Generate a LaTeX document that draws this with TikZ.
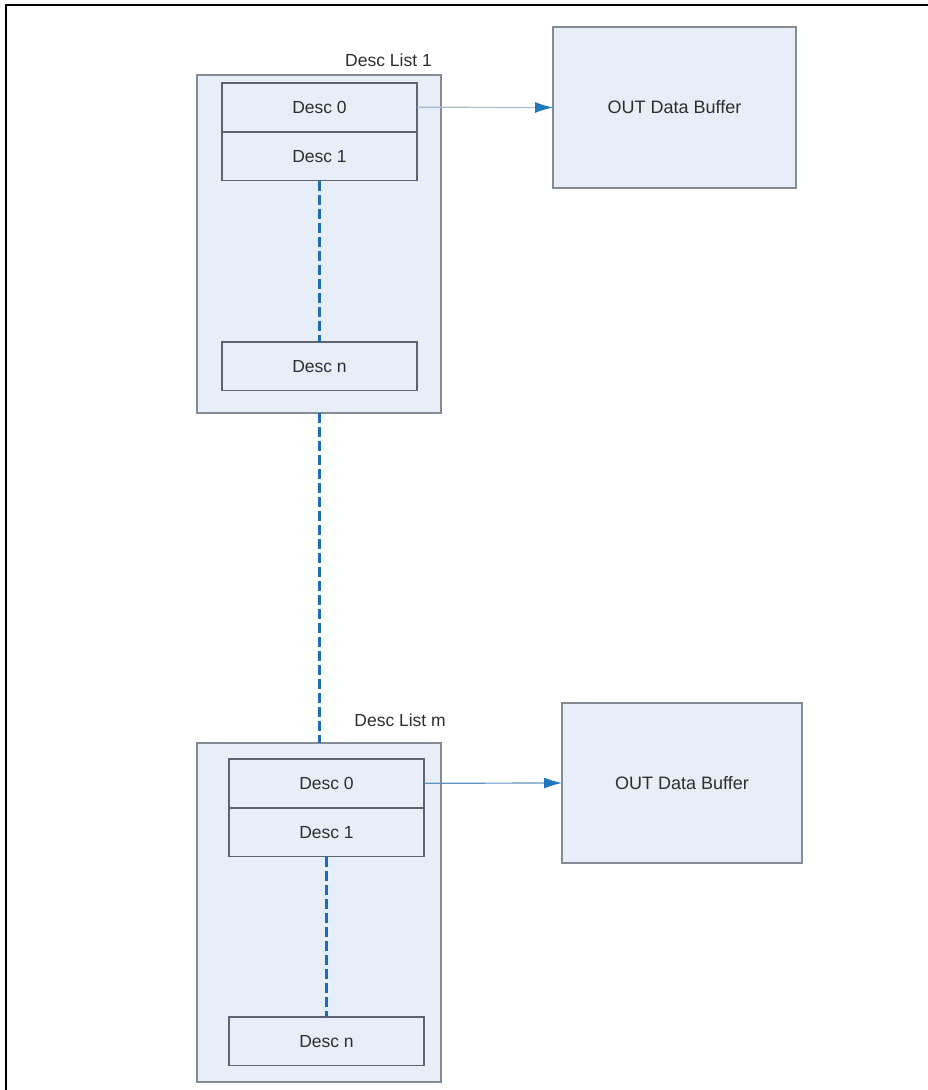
\documentclass[tikz,border=0pt]{standalone}
\usepackage{fontspec}
\setmainfont{Liberation Sans}
\usetikzlibrary{arrows.meta}
\definecolor{boxfill}{HTML}{E8EEF7}
\definecolor{boxline}{HTML}{5E646E}
\definecolor{listline}{HTML}{858B95}
\definecolor{dashblue}{HTML}{1E6DB4}
\definecolor{ptrlineA}{HTML}{A9BCCD}
\definecolor{ptrlineB}{HTML}{5F93BE}
\definecolor{headblue}{HTML}{1E78C0}
\definecolor{txt}{HTML}{2E2E2E}
\tikzset{
  listbox/.style={draw=listline, fill=boxfill, line width=1.3pt, inner sep=0pt, outer sep=0pt, anchor=north west},
  descbox/.style={draw=boxline, fill=boxfill, line width=1.3pt, inner sep=0pt, outer sep=0pt, anchor=north west,
    minimum width=195pt, minimum height=48.5pt, text=txt, font=\fontsize{17.5}{19}\selectfont},
  bufbox/.style={draw=listline, fill=boxfill, line width=1.3pt, inner sep=0pt, outer sep=0pt, anchor=north west,
    text=txt, font=\fontsize{18}{20}\selectfont},
  listlabel/.style={anchor=east, inner sep=0pt, text=txt, font=\fontsize{17.5}{19}\selectfont},
  dashlink/.style={draw=dashblue, line width=3pt, dash pattern=on 10pt off 4pt},
  ptr/.style={line width=1.2pt, -{Latex[length=18pt,width=11pt,fill=headblue,color=headblue]}},
}
\begin{document}
\begin{tikzpicture}[x=1pt,y=-1pt]
\useasboundingbox (0,0) rectangle (928,1090);
\coordinate (fTL) at (6,5);
\coordinate (fTR) at (928,5);
\coordinate (fBL) at (6,1090);
\draw[line width=2pt] (fTR) -- (fTL) -- (fBL);

% Desc List 1
\node[listbox, minimum width=244pt, minimum height=338pt] (L1) at (197,75) {};
\node[listlabel] (L1lab) at (432,60) {Desc List 1};
\node[descbox] (d01) at (222,83) {Desc 0};
\node[descbox] (d11) at (222,132) {Desc 1};
\node[descbox] (dn1) at (222,342) {Desc n};
\node[bufbox, minimum width=243pt, minimum height=161pt] (B1) at (553,27) {OUT Data Buffer};
\draw[dashlink] (d11.south) -- (dn1.north);
\draw[ptr, draw=ptrlineA] (d01.east) -- (B1.west);

% Desc List m
\node[listbox, minimum width=244pt, minimum height=339pt] (Lm) at (197,743) {};
\node[listlabel] (Lmlab) at (446,720) {Desc List m};
\node[descbox] (d0m) at (229,759) {Desc 0};
\node[descbox] (d1m) at (229,808) {Desc 1};
\node[descbox] (dnm) at (229,1017) {Desc n};
\node[bufbox, minimum width=240pt, minimum height=160pt] (Bm) at (562,703) {OUT Data Buffer};
\draw[dashlink] (d1m.south) -- (dnm.north);
\draw[ptr, draw=ptrlineB] (d0m.east) -- (Bm.west);

% link between lists
\draw[dashlink] (L1.south) -- (Lm.north);
\end{tikzpicture}
\end{document}
